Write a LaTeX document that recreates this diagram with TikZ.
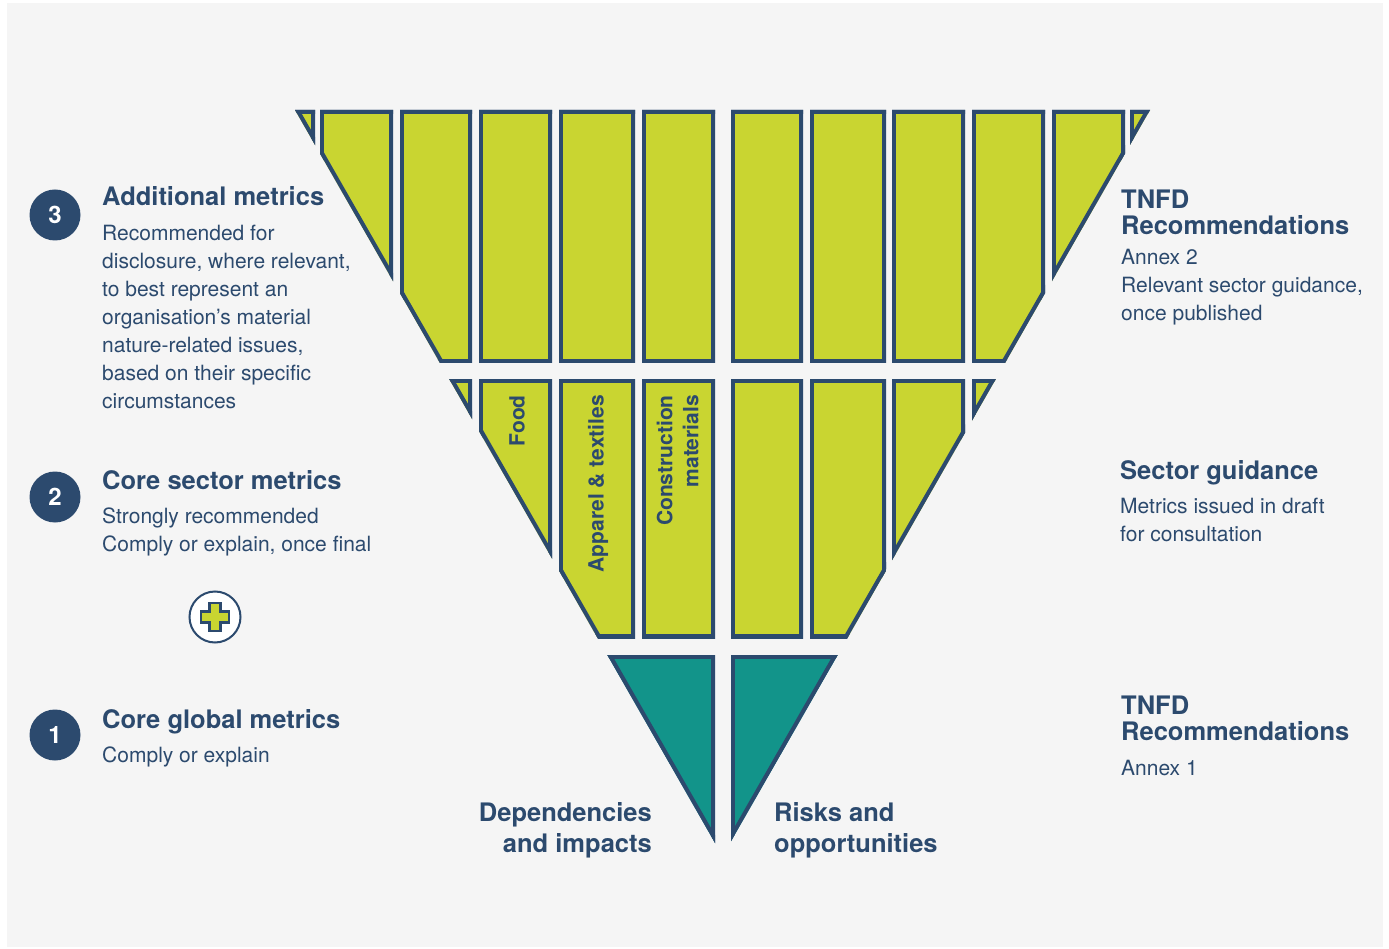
\documentclass[tikz,border=0pt]{standalone}
\usepackage{fontspec}
\setmainfont{TeX Gyre Heros}
\usetikzlibrary{positioning}
\definecolor{navy}{HTML}{2C4A6E}
\definecolor{tnfdlime}{HTML}{C9D531}
\definecolor{tnfdteal}{HTML}{12948A}
\definecolor{bggray}{HTML}{F5F5F5}

\begin{document}
\begin{tikzpicture}[x=1pt, y=-1pt,
	title/.style = {inner sep=0, text=navy, align=left, font=\fontsize{25.5}{26}\selectfont\bfseries},
	body/.style  = {anchor=north west, inner sep=0, text=navy, align=left, font=\fontsize{21}{28}\selectfont},
	num/.style   = {circle, fill=navy, minimum size=51pt, inner sep=0, text=white, font=\fontsize{24}{24}\selectfont\bfseries},
	tag/.style   = {rotate=90, inner sep=0, text=navy, align=right, font=\fontsize{21}{26}\selectfont\bfseries},
	cell/.style  = {line width=8pt, draw=navy, line join=miter}
	]
	\useasboundingbox (0,0) rectangle (1389,949);
	\fill[white] (0,0) rectangle (1389,949);
	\fill[bggray] (7,3) rectangle (1383,947);
%
	\def\tri{(295,110) -- (1150,110) -- (722.5,856) -- cycle}
	\foreach \xa/\xb/\ya/\yb/\col in {
	    250/315/110/363/tnfdlime, 320/393/110/363/tnfdlime, 400/472/110/363/tnfdlime,
	    479/552/110/363/tnfdlime, 559/635/110/363/tnfdlime, 642/715/110/363/tnfdlime,
	    731/803/110/363/tnfdlime, 810/886/110/363/tnfdlime, 892/965/110/363/tnfdlime,
	    972/1045/110/363/tnfdlime, 1052/1125/110/363/tnfdlime, 1130/1200/110/363/tnfdlime,
	    400/472/379/638/tnfdlime, 479/552/379/638/tnfdlime, 559/635/379/638/tnfdlime,
	    642/715/379/638/tnfdlime, 731/803/379/638/tnfdlime, 810/886/379/638/tnfdlime,
	    892/965/379/638/tnfdlime, 972/1045/379/638/tnfdlime,
	    500/715/655/900/tnfdteal, 731/950/655/900/tnfdteal} {
	  \begin{scope}
	    \clip (\xa,\ya) rectangle (\xb,\yb);
	    \clip \tri;
	    \fill[\col] (\xa,\ya) rectangle (\xb,\yb);
	    \draw[cell] (\xa,\ya) rectangle (\xb,\yb);
	    \draw[cell] \tri;
	  \end{scope}
	}
%
	\node (food) [tag, anchor=base east] at (524.5,395) {Food};
	\node (apparel) [tag, anchor=base east] at (603.5,395) {Apparel \& textiles};
	\node (constr) [tag, anchor=north east] at (656.5,395) {Construction\\materials};
%
	\node (n3) [num] at (55,215) {3};
	\node (t3) [title, anchor=base west] at (102,206) {Additional metrics};
	\node (b3) [body] at (102,224.7) {Recommended for\\disclosure, where relevant,\\to best represent an\\organisation’s material\\nature-related issues,\\based on their specific\\circumstances};
%
	\node (n2) [num] at (55,497) {2};
	\node (t2) [title, anchor=base west] at (102,489) {Core sector metrics};
	\node (b2) [body] at (102,508) {Strongly recommended\\Comply or explain, once final};
%
	\node (plus) [circle, draw=navy, line width=2pt, fill=white, minimum size=51pt] at (215,617) {};
	\draw[line width=2.5pt, draw=navy, fill=tnfdlime, line join=miter, shift={(plus.center)}]
	  (-5.5,-14) -- (5.5,-14) -- (5.5,-5.5) -- (14,-5.5) -- (14,5.5) -- (5.5,5.5)
	  -- (5.5,14) -- (-5.5,14) -- (-5.5,5.5) -- (-14,5.5) -- (-14,-5.5) -- (-5.5,-5.5) -- cycle;
%
	\node (n1) [num] at (55,735) {1};
	\node (t1) [title, anchor=base west] at (102,728) {Core global metrics};
	\node (b1) [body] at (102,747) {Comply or explain};
%
	\node (r3) [title, anchor=north west] at (1121,189.5) {TNFD\\Recommendations};
	\node (r3b) [body] at (1121,249) {Annex 2\\Relevant sector guidance,\\once published};
	\node (r2) [title, anchor=base west] at (1120,479) {Sector guidance};
	\node (r2b) [body] at (1120,498) {Metrics issued in draft\\for consultation};
	\node (r1) [title, anchor=north west] at (1121,696) {TNFD\\Recommendations};
	\node (r1b) [body] at (1121,760) {Annex 1};
%
	\node (dep) [title, anchor=north east, align=right, font=\fontsize{25.5}{31}\selectfont\bfseries] at (652,802) {Dependencies\\and impacts};
	\node (risk) [title, anchor=north west, font=\fontsize{25.5}{31}\selectfont\bfseries] at (774,802) {Risks and\\opportunities};
\end{tikzpicture}
\end{document}
